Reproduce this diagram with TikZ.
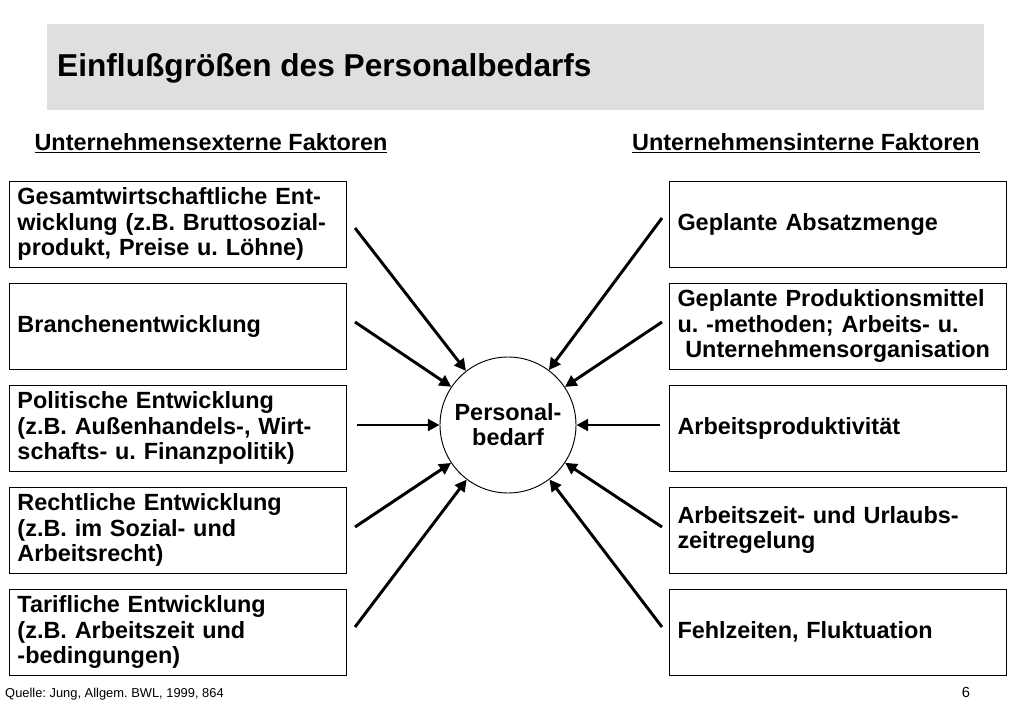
\documentclass[tikz,border=0pt]{standalone}
\usepackage{fontspec}
\setmainfont{Liberation Sans}
\usetikzlibrary{arrows.meta}
\frenchspacing
\begin{document}
\begin{tikzpicture}[x=0.03cm,y=-0.03cm,
    faktor/.style={draw,thick,minimum width=337*0.03cm,minimum height=86*0.03cm,
      text width=320*0.03cm,align=left,inner sep=0pt,font=\bfseries\fontsize{20}{21.5}\selectfont},
    kopf/.style={font=\bfseries\fontsize{20}{22}\selectfont},
    pfeil/.style={line width=2.5pt,-{Triangle[length=10pt,width=10pt]}}]
    \useasboundingbox (0,0) rectangle (1023,708);
    % title
    \fill[gray!25] (47,24) rectangle (984,110);
    \node[anchor=west,inner sep=0pt,font=\bfseries\fontsize{27}{30}\selectfont] (titel) at (57,68) {Einflußgrößen des Personalbedarfs};
    % headers
    \node[kopf] (ext) at (211,143) {\underline{Unternehmensexterne Faktoren}};
    \node[kopf] (int) at (806,143) {\underline{Unternehmensinterne Faktoren}};
    % left column
    \node[faktor] (l1) at (177.5,224) {Gesamtwirtschaftliche Ent-\\wicklung (z.B. Bruttosozial-\\produkt, Preise u. Löhne)};
    \node[faktor] (l2) at (177.5,326) {Branchenentwicklung};
    \node[faktor] (l3) at (177.5,428) {Politische Entwicklung\\(z.B. Außenhandels-, Wirt-\\schafts- u. Finanzpolitik)};
    \node[faktor] (l4) at (177.5,530) {Rechtliche Entwicklung\\(z.B. im Sozial- und\\Arbeitsrecht)};
    \node[faktor] (l5) at (177.5,632) {Tarifliche Entwicklung\\(z.B. Arbeitszeit und\\-bedingungen)};
    % right column
    \node[faktor] (r1) at (837.5,224) {Geplante Absatzmenge};
    \node[faktor] (r2) at (837.5,326) {Geplante Produktionsmittel\\u. -methoden; Arbeits- u.\\\ Unternehmensorganisation};
    \node[faktor] (r3) at (837.5,428) {Arbeitsproduktivität};
    \node[faktor] (r4) at (837.5,530) {Arbeitszeit- und Urlaubs-\\zeitregelung};
    \node[faktor] (r5) at (837.5,632) {Fehlzeiten, Fluktuation};
    % centre
    \node[draw,thick,circle,minimum size=136*0.03cm,inner sep=0pt,align=center,
      font=\bfseries\fontsize{20}{21.5}\selectfont] (pb) at (508,425) {Personal-\\bedarf};
    % arrow starts
    \coordinate (a1) at (355,228);
    \coordinate (a2) at (355,322);
    \coordinate (a3) at (357,425);
    \coordinate (a4) at (355,527);
    \coordinate (a5) at (355,627);
    \coordinate (b1) at (662,218);
    \coordinate (b2) at (662,322);
    \coordinate (b3) at (660,425);
    \coordinate (b4) at (662,527);
    \coordinate (b5) at (662,627);
    \draw[pfeil] (a1) -- (pb);
    \draw[pfeil] (a2) -- (pb);
    \draw[pfeil] (a3) -- (pb);
    \draw[pfeil] (a4) -- (pb);
    \draw[pfeil] (a5) -- (pb);
    \draw[pfeil] (b1) -- (pb);
    \draw[pfeil] (b2) -- (pb);
    \draw[pfeil] (b3) -- (pb);
    \draw[pfeil] (b4) -- (pb);
    \draw[pfeil] (b5) -- (pb);
    % footer
    \node[anchor=west,inner sep=0pt,font=\fontsize{11}{13}\selectfont] (quelle) at (5,694) {Quelle: Jung, Allgem. BWL, 1999, 864};
    \node[font=\fontsize{12.5}{14}\selectfont] (seite) at (966,692) {6};
\end{tikzpicture}
\end{document}
